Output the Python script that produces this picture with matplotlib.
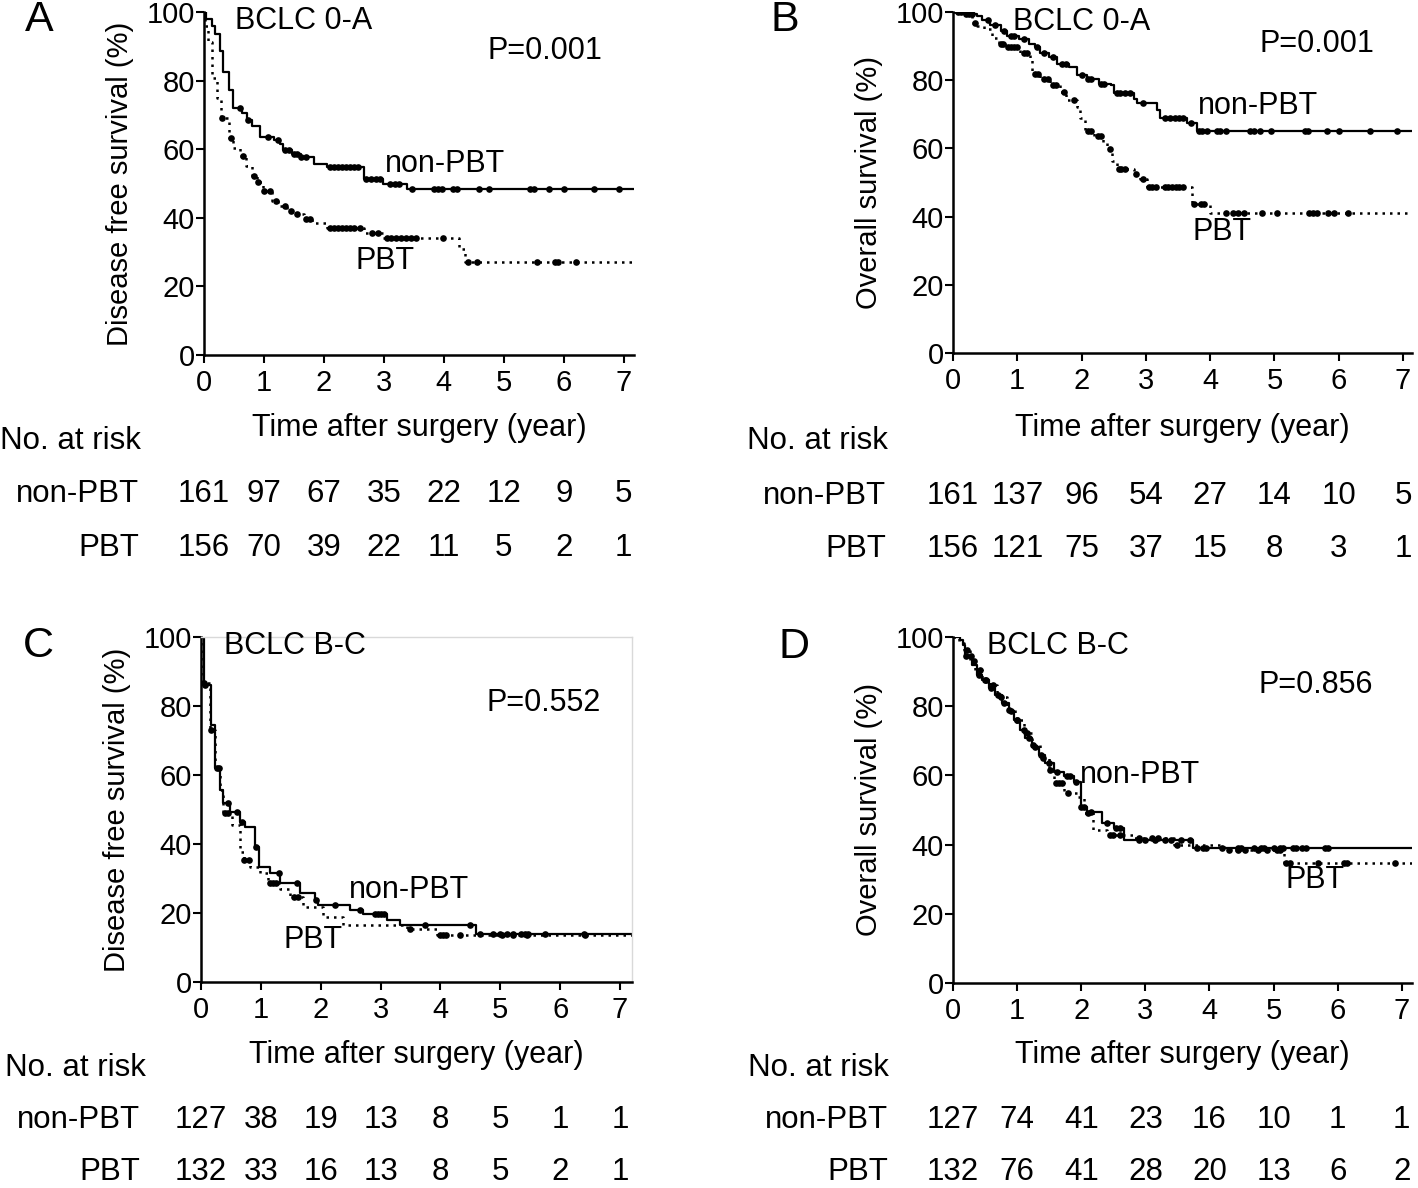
import numpy as np
import matplotlib
matplotlib.use("Agg")
import matplotlib.pyplot as plt
from matplotlib.transforms import blended_transform_factory

plt.rcParams['font.family'] = ['Liberation Sans', 'DejaVu Sans']

# ---- data (years, % surviving) ----
years = [0, 1, 2, 3, 4, 5, 6, 7]

# A: BCLC 0-A, disease free survival
a_non_t = [0.04, 0.13, 0.18, 0.27, 0.32, 0.42, 0.49, 0.63, 0.71, 0.80, 0.93, 1.16, 1.27, 1.32,
           1.46, 1.62, 1.83, 2.05, 2.66, 2.99, 3.38]
a_non_s = [98.0, 96.0, 93.5, 88.5, 82.6, 77.3, 72.0, 70.5, 68.6, 66.7, 63.5, 62.6, 61.4, 59.9,
           58.6, 57.6, 55.6, 54.9, 51.2, 50.0, 48.3]
a_non_c = [0.60, 0.74, 1.07, 1.24, 1.35, 1.42, 1.50, 1.55, 1.62, 1.70, 2.10, 2.17, 2.23, 2.30, 2.37,
           2.44, 2.50, 2.57, 2.70, 2.78, 2.86, 2.93, 3.10, 3.18, 3.25, 3.47, 3.83, 3.90, 3.97, 4.16,
           4.22, 4.58, 4.75, 5.44, 5.50, 5.75, 6.00, 6.50, 6.92]
a_pbt_t = [0.02, 0.07, 0.14, 0.22, 0.29, 0.41, 0.49, 0.60, 0.70, 0.80, 0.88, 0.99, 1.13, 1.24,
           1.38, 1.49, 1.66, 1.80, 2.05, 2.66, 2.99, 4.25, 4.36]
a_pbt_s = [96.0, 91.3, 80.7, 75.0, 69.1, 63.3, 60.4, 58.0, 55.0, 52.2, 50.5, 47.8, 44.9, 43.5,
           42.0, 41.0, 39.6, 38.6, 36.9, 35.7, 34.1, 30.9, 27.1]
a_pbt_c = [0.30, 0.45, 0.65, 0.83, 0.90, 1.00, 1.10, 1.20, 1.35, 1.45, 1.55, 1.70, 1.76, 2.10, 2.17,
           2.23, 2.30, 2.37, 2.44, 2.50, 2.60, 2.80, 2.90, 3.05, 3.12, 3.20, 3.28, 3.36, 3.45, 3.53,
           3.99, 4.40, 4.55, 5.55, 5.85, 5.90, 6.20]
a_risk_non = [161, 97, 67, 35, 22, 12, 9, 5]
a_risk_pbt = [156, 70, 39, 22, 11, 5, 2, 1]

# B: BCLC 0-A, overall survival
b_non_t = [0.15, 0.37, 0.45, 0.58, 0.74, 0.84, 1.02, 1.18, 1.28, 1.36, 1.49, 1.62, 1.80, 1.93,
           2.08, 2.27, 2.45, 2.50, 2.81, 2.86, 3.17, 3.22, 3.64, 3.79]
b_non_s = [99.4, 98.8, 97.6, 96.2, 94.4, 93.0, 92.0, 90.5, 89.6, 88.1, 86.7, 84.7, 83.8, 81.4,
           80.4, 79.0, 78.5, 76.1, 74.6, 73.2, 71.2, 68.8, 67.4, 65.0]
b_non_c = [0.08, 0.12, 0.20, 0.25, 0.30, 0.55, 0.65, 0.80, 0.90, 0.95, 1.10, 1.30, 1.42, 1.55, 1.70,
           1.75, 2.00, 2.10, 2.15, 2.30, 2.35, 2.55, 2.60, 2.68, 2.75, 2.95, 3.30, 3.38, 3.45, 3.52,
           3.58, 3.70, 3.83, 3.88, 3.95, 4.10, 4.15, 4.25, 4.62, 4.68, 4.78, 4.94, 5.48, 5.52, 5.82,
           6.00, 6.49, 6.90]
b_pbt_t = [0.30, 0.37, 0.48, 0.60, 0.71, 0.81, 1.05, 1.20, 1.23, 1.36, 1.51, 1.67, 1.75, 1.93,
           1.98, 2.06, 2.19, 2.34, 2.40, 2.47, 2.55, 2.81, 2.91, 3.02, 3.72, 4.00]
b_pbt_s = [96.8, 95.8, 94.9, 92.5, 90.5, 89.6, 88.1, 86.2, 81.9, 80.4, 78.5, 76.5, 74.1, 72.2,
           68.8, 65.0, 63.5, 61.6, 59.7, 56.3, 53.9, 52.4, 51.0, 48.6, 43.7, 41.0]
b_pbt_c = [0.35, 0.75, 0.78, 0.85, 0.90, 0.95, 1.00, 1.10, 1.15, 1.28, 1.32, 1.42, 1.47, 1.55, 1.60,
           1.72, 1.88, 2.10, 2.15, 2.25, 2.30, 2.44, 2.58, 2.62, 2.68, 2.85, 2.95, 3.05, 3.10, 3.15,
           3.30, 3.35, 3.40, 3.47, 3.52, 3.58, 3.75, 3.85, 3.90, 4.24, 4.36, 4.44, 4.52, 4.81, 5.04,
           5.53, 5.60, 5.66, 5.84, 5.92, 6.15]
b_risk_non = [161, 137, 96, 54, 27, 14, 10, 5]
b_risk_pbt = [156, 121, 75, 37, 15, 8, 3, 1]

# C: BCLC B-C, disease free survival
c_non_t = [0.05, 0.16, 0.23, 0.31, 0.37, 0.48, 0.65, 0.73, 0.90, 0.97, 1.15, 1.32, 1.65, 1.90,
           1.96, 2.49, 2.71, 3.10, 3.32, 4.60]
c_non_s = [86.2, 74.5, 62.0, 55.7, 51.8, 49.4, 46.5, 45.0, 39.2, 33.4, 31.5, 28.6, 25.7, 23.7,
           22.3, 20.8, 19.8, 17.9, 16.5, 14.0]
c_non_c = [0.06, 0.30, 0.45, 0.60, 0.69, 0.92, 1.30, 1.60, 1.92, 2.24, 2.66, 2.90, 2.95, 3.00, 3.05,
           3.74, 4.49, 4.66, 4.88, 5.00, 5.11, 5.22, 5.35, 5.42, 5.47, 5.75, 6.39]
c_pbt_t = [0.04, 0.15, 0.23, 0.31, 0.37, 0.51, 0.65, 0.71, 0.82, 0.99, 1.12, 1.32, 1.49, 1.71,
           2.04, 2.38, 3.44, 3.94]
c_pbt_s = [86.6, 73.1, 62.0, 55.7, 49.1, 45.5, 37.8, 35.3, 33.4, 31.5, 28.6, 27.1, 24.7, 21.8,
           18.9, 16.5, 15.5, 13.6]
c_pbt_c = [0.05, 0.17, 0.27, 0.40, 0.45, 0.72, 0.80, 1.15, 1.20, 1.25, 1.55, 1.62, 3.49, 3.99, 4.05,
           4.10, 4.33, 5.02, 5.22, 5.44, 6.42]
c_risk_non = [127, 38, 19, 13, 8, 5, 1, 1]
c_risk_pbt = [132, 33, 16, 13, 8, 5, 2, 1]

# D: BCLC B-C, overall survival
d_non_t = [0.11, 0.15, 0.19, 0.30, 0.37, 0.45, 0.56, 0.66, 0.76, 0.87, 0.95, 1.05, 1.13, 1.23,
           1.34, 1.44, 1.57, 1.73, 1.88, 1.99, 2.09, 2.32, 2.51, 2.66, 3.75]
d_non_s = [99.2, 97.8, 94.4, 92.0, 89.1, 87.6, 85.2, 83.3, 80.9, 78.5, 76.1, 73.2, 70.8, 68.3,
           65.9, 63.5, 61.1, 59.7, 58.2, 51.0, 49.5, 46.1, 44.7, 41.3, 38.9]
d_non_c = [0.20, 0.28, 0.40, 0.50, 0.60, 0.70, 0.80, 0.90, 1.00, 1.10, 1.18, 1.28, 1.38, 1.50, 1.62,
           1.78, 1.82, 1.92, 2.00, 2.05, 2.15, 2.40, 2.55, 2.60, 2.90, 3.00, 3.15, 3.30, 3.40, 3.55,
           3.70, 3.80, 3.90, 3.95, 4.20, 4.45, 4.50, 4.70, 4.80, 4.85, 5.00, 5.10, 5.15, 5.30, 5.35,
           5.45, 5.50, 5.80, 5.85]
d_pbt_t = [0.09, 0.17, 0.27, 0.35, 0.45, 0.58, 0.69, 0.84, 0.97, 1.10, 1.23, 1.36, 1.49, 1.57,
           1.73, 1.93, 2.04, 2.19, 2.40, 2.82, 3.44, 4.22, 5.16]
d_pbt_s = [98.3, 96.3, 93.0, 90.5, 87.6, 86.2, 82.8, 79.0, 76.1, 72.2, 68.8, 65.0, 61.6, 57.7,
           54.8, 53.9, 49.0, 44.2, 42.8, 41.8, 39.9, 38.4, 34.6]
d_pbt_c = [0.22, 0.32, 0.42, 0.52, 0.62, 0.75, 0.88, 1.00, 1.15, 1.25, 1.40, 1.52, 1.60, 1.65, 1.70,
           1.80, 2.10, 2.45, 2.50, 2.60, 2.90, 3.10, 3.20, 3.50, 4.30, 4.45, 4.55, 4.75, 4.90, 5.05,
           5.10, 5.20, 5.25, 5.70, 6.10, 6.15, 6.90]
d_risk_non = [127, 74, 41, 23, 16, 10, 1, 1]
d_risk_pbt = [132, 76, 41, 28, 20, 13, 6, 2]


W, H = 1418, 1188
fig = plt.figure(figsize=(W / 100, H / 100), dpi=100)


def px_axes(left, right, top, bottom):
    return fig.add_axes([left / W, 1 - bottom / H, (right - left) / W, (bottom - top) / H])


def km(ax, t, s, cens, xmax, dotted):
    tt = np.concatenate([[0], t, [xmax]])
    ss = np.concatenate([[100], s, [s[-1]]])
    if dotted:
        ax.step(tt, ss, where='post', color='black', lw=1.8, ls=(0, (1, 2.0)))
    else:
        ax.step(tt, ss, where='post', color='black', lw=1.6)
    idx = np.searchsorted(tt, cens, side='right') - 1
    ax.plot(cens, ss[idx], 'o', color='black', ms=4.8, mew=0)


def risk_row(ax, y_px, label, values, label_right):
    tr = blended_transform_factory(ax.transData, fig.transFigure)
    fig.text(label_right / W, 1 - y_px / H, label, ha='right', va='center', fontsize=22.5)
    for x, v in zip(years, values):
        ax.text(x, 1 - y_px / H, str(v), transform=tr, ha='center', va='center', fontsize=22.5)


panels = [
    dict(letter='A', letter_xy=(25, 20), box=(204, 634, 12, 355), xmax=7.17,
         ylabel='Disease free survival (%)', title='BCLC 0-A', title_xy=(0.52, 97.5),
         p='P=0.001', p_xy=(4.72, 88.5), non_xy=(3.02, 55.7), pbt_xy=(2.53, 27.5),
         non=(a_non_t, a_non_s, a_non_c), pbt=(a_pbt_t, a_pbt_s, a_pbt_c),
         risk=(a_risk_non, a_risk_pbt), risk_y=(441, 494, 548), risk_lab=(0, 139)),
    dict(letter='B', letter_xy=(770, 20), box=(953, 1412, 12, 353), xmax=7.14,
         ylabel='Overall survival (%)', title='BCLC 0-A', title_xy=(0.93, 97.0),
         p='P=0.001', p_xy=(4.77, 90.5), non_xy=(3.81, 72.3), pbt_xy=(3.73, 35.5),
         non=(b_non_t, b_non_s, b_non_c), pbt=(b_pbt_t, b_pbt_s, b_pbt_c),
         risk=(b_risk_non, b_risk_pbt), risk_y=(441, 496, 549), risk_lab=(747, 886)),
    dict(letter='C', letter_xy=(23, 646), box=(201, 632, 637, 982), xmax=7.2,
         ylabel='Disease free survival (%)', title='BCLC B-C', title_xy=(0.38, 97.4),
         p='P=0.552', p_xy=(4.77, 80.9), non_xy=(2.48, 26.7), pbt_xy=(1.37, 12.2),
         non=(c_non_t, c_non_s, c_non_c), pbt=(c_pbt_t, c_pbt_s, c_pbt_c),
         risk=(c_risk_non, c_risk_pbt), risk_y=(1068, 1120, 1172), risk_lab=(5, 140)),
    dict(letter='D', letter_xy=(778, 647), box=(953, 1412, 637, 983), xmax=7.16,
         ylabel='Overall survival (%)', title='BCLC B-C', title_xy=(0.53, 97.4),
         p='P=0.856', p_xy=(4.77, 86.0), non_xy=(1.98, 60.0), pbt_xy=(5.19, 29.8),
         non=(d_non_t, d_non_s, d_non_c), pbt=(d_pbt_t, d_pbt_s, d_pbt_c),
         risk=(d_risk_non, d_risk_pbt), risk_y=(1068, 1120, 1172), risk_lab=(748, 888)),
]

for p in panels:
    left, right, top, bottom = p['box']
    ax = px_axes(left, right, top, bottom)
    ax.set_xlim(0, p['xmax'])
    ax.set_ylim(0, 100)

    km(ax, *p['non'], p['xmax'], dotted=False)
    km(ax, *p['pbt'], p['xmax'], dotted=True)

    for side in ['top', 'right']:
        if p['letter'] == 'C':
            ax.spines[side].set_color('#d9d9d9')
            ax.spines[side].set_linewidth(1.0)
        else:
            ax.spines[side].set_visible(False)
    for side in ['left', 'bottom']:
        ax.spines[side].set_linewidth(1.8)
    ax.set_xticks(years)
    ax.set_yticks([0, 20, 40, 60, 80, 100])
    ax.tick_params(direction='out', length=6, width=1.5, labelsize=21)
    ax.tick_params(axis='y', pad=0.5)
    ax.tick_params(axis='x', pad=4)

    ax.set_xlabel('Time after surgery (year)', fontsize=22)
    ax.xaxis.label.set_va('center')
    xl_y = 428 if p['letter'] in 'AB' else 1055
    ax.xaxis.set_label_coords(0.5, -(xl_y - bottom) / (bottom - top))
    ax.set_ylabel(p['ylabel'], fontsize=21)
    ax.yaxis.label.set_va('center')
    ax.yaxis.set_label_coords(-84 / (right - left), 0.5)

    ax.text(*p['title_xy'], p['title'], fontsize=22, ha='left', va='center')
    ax.text(*p['p_xy'], p['p'], fontsize=22, ha='left', va='center')
    ax.text(*p['non_xy'], 'non-PBT', fontsize=22, ha='left', va='center')
    ax.text(*p['pbt_xy'], 'PBT', fontsize=22, ha='left', va='center')

    lx, ly = p['letter_xy']
    fig.text(lx / W, 1 - ly / H, p['letter'], fontsize=31, ha='left', va='center')

    y0, y1, y2 = p['risk_y']
    fig.text(p['risk_lab'][0] / W, 1 - y0 / H, 'No. at risk', fontsize=22.5, ha='left', va='center')
    risk_row(ax, y1, 'non-PBT', p['risk'][0], p['risk_lab'][1])
    risk_row(ax, y2, 'PBT', p['risk'][1], p['risk_lab'][1])

fig.savefig('out.png', dpi=100, facecolor='white')
